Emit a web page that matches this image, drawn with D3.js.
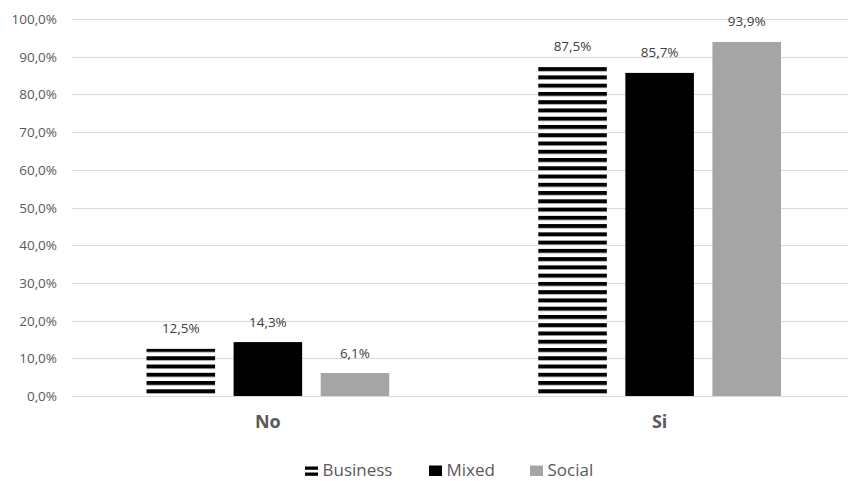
<!DOCTYPE html>
<html>
<head>
<meta charset="utf-8">
<script src="https://cdn.jsdelivr.net/npm/d3@7"></script>
<style>
  html, body { margin: 0; padding: 0; background: #fff; }
  svg { display: block; }
  text { font-family: "Open Sans", sans-serif; }
</style>
</head>
<body>
<svg id="chart" width="848" height="481"></svg>
<script>
const categories = ["No", "Si"];
const seriesNames = ["Business", "Mixed", "Social"];
const business = [0.125, 0.875];
const mixed = [0.143, 0.857];
const social = [0.061, 0.939];
const yTicks = [0, 0.1, 0.2, 0.3, 0.4, 0.5, 0.6, 0.7, 0.8, 0.9, 1.0];

const seriesValues = { Business: business, Mixed: mixed, Social: social };
const W = 848, H = 481;
const svg = d3.select("#chart");

const defs = svg.append("defs");
const pat = defs.append("pattern")
  .attr("id", "stripes")
  .attr("patternUnits", "userSpaceOnUse")
  .attr("x", 0).attr("y", 389.3)
  .attr("width", 10).attr("height", 8.26);
pat.append("rect").attr("x", 0).attr("y", 0).attr("width", 10).attr("height", 8.26).attr("fill", "#fff");
pat.append("rect").attr("x", 0).attr("y", 0).attr("width", 10).attr("height", 4.0).attr("fill", "#000");

const fills = { Business: "url(#stripes)", Mixed: "#000000", Social: "#a5a5a5" };

const plotLeft = 72, plotRight = 848;
const y = d3.scaleLinear().domain([0, 1]).range([396, 19]);
const x0 = d3.scaleBand().domain(categories).range([72, 855.5]).paddingInner(0).paddingOuter(0);
const x1 = d3.scaleBand().domain(seriesNames).range([0, x0.bandwidth()]).paddingInner(0.2126).paddingOuter(0.856);

const fmt = v => d3.format(".1f")(v * 100).replace(".", ",") + "%";

// gridlines
svg.append("g").selectAll("line").data(yTicks).join("line")
  .attr("x1", plotLeft).attr("x2", plotRight)
  .attr("y1", d => Math.round(y(d)) + 0.5).attr("y2", d => Math.round(y(d)) + 0.5)
  .attr("stroke", "#d9d9d9").attr("stroke-width", 1);

// y labels
svg.append("g").selectAll("text").data(yTicks).join("text")
  .attr("x", 57).attr("y", d => y(d) + 5)
  .attr("text-anchor", "end")
  .attr("font-size", 13.5).attr("fill", "#595959")
  .text(d => fmt(d));

// bars
const groups = svg.append("g").selectAll("g").data(categories).join("g")
  .attr("transform", c => `translate(${x0(c)},0)`);

groups.selectAll("rect").data((c, i) => seriesNames.map(s => ({ s, v: seriesValues[s][i] }))).join("rect")
  .attr("x", d => x1(d.s)).attr("width", x1.bandwidth())
  .attr("y", d => y(d.v)).attr("height", d => y(0) - y(d.v))
  .attr("fill", d => fills[d.s]);

groups.selectAll("text.lbl").data((c, i) => seriesNames.map(s => ({ s, v: seriesValues[s][i] }))).join("text")
  .attr("class", "lbl")
  .attr("x", d => x1(d.s) + x1.bandwidth() / 2)
  .attr("y", d => y(d.v) - 15.5)
  .attr("text-anchor", "middle")
  .attr("font-size", 13.5).attr("fill", "#404040")
  .text(d => fmt(d.v));

// category labels
svg.append("g").selectAll("text").data(categories).join("text")
  .attr("x", c => x0(c) + x0.bandwidth() / 2)
  .attr("y", 428)
  .attr("text-anchor", "middle")
  .attr("font-size", 18).attr("font-weight", "bold").attr("fill", "#595959")
  .text(c => c);

// legend
const legendX = { Business: 305, Mixed: 429, Social: 530 };
const legBase = 476;
const leg = svg.append("g");
seriesNames.forEach(s => {
  const g = leg.append("g").attr("transform", `translate(${legendX[s]},0)`);
  if (s === "Business") {
    g.append("rect").attr("x", 0).attr("y", legBase - 9.5).attr("width", 13).attr("height", 3.3).attr("fill", "#000");
    g.append("rect").attr("x", 0).attr("y", legBase - 3.5).attr("width", 13).attr("height", 3.3).attr("fill", "#000");
  } else {
    g.append("rect").attr("x", 0).attr("y", legBase - 10.5).attr("width", 13).attr("height", 10.5).attr("fill", fills[s]);
  }
  g.append("text").attr("x", 17.5).attr("y", legBase)
    .attr("font-size", 17).attr("fill", "#595959").text(s);
});
</script>
</body>
</html>
